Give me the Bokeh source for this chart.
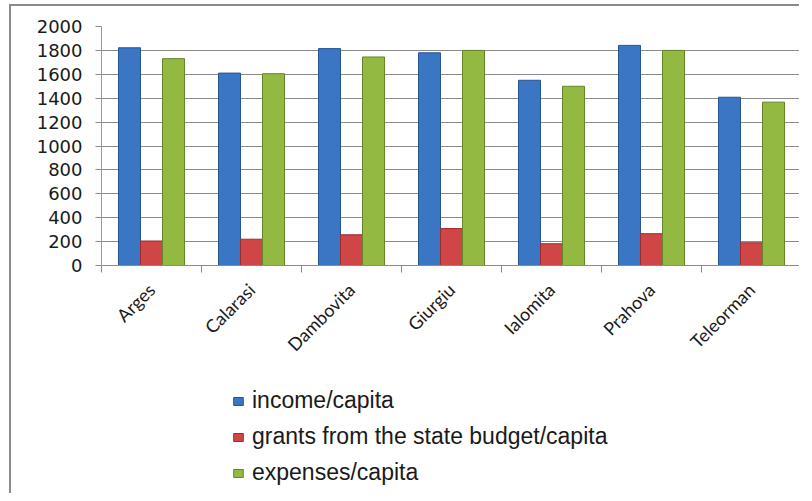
import numpy as np
from bokeh.plotting import figure
from bokeh.layouts import column
from bokeh.models import ColumnDataSource, FixedTicker, Legend, LegendItem, Range1d
from bokeh.transform import dodge
from bokeh.embed import file_html
from bokeh.resources import INLINE

counties = ["Arges", "Calarasi", "Dambovita", "Giurgiu", "Ialomita", "Prahova", "Teleorman"]
income = [1822, 1610, 1815, 1780, 1550, 1842, 1408]
grants = [205, 220, 257, 309, 182, 266, 190]
expenses = [1731, 1605, 1745, 1800, 1500, 1800, 1367]
series_names = ["income/capita", "grants from the state budget/capita", "expenses/capita"]
y_ticks = list(range(0, 2001, 200))

x_pos = np.arange(len(counties)) + 0.5
src = ColumnDataSource(dict(x=x_pos, income=income, grants=grants, expenses=expenses))

BORDER = "2px solid #8a8a8a"

p = figure(width=790, height=364, output_backend="svg", toolbar_location=None,
           x_range=Range1d(0, len(counties)), y_range=Range1d(0, 2000),
           min_border_left=90, min_border_right=0, min_border_top=20, min_border_bottom=105)
p.styles = {"border-top": BORDER, "border-left": BORDER}
p.outline_line_color = None
p.background_fill_color = "white"

colors = [("#3b76c4", "#27558f"), ("#d04545", "#9b2c2c"), ("#93b943", "#65852a")]
fields = ["income", "grants", "expenses"]
offsets = [-0.22, 0.0, 0.22]
for f, off, (fc, lc) in zip(fields, offsets, colors):
    p.vbar(x=dodge("x", off, range=p.x_range), top=f, width=0.22, bottom=0, source=src,
           fill_color=fc, line_color=lc, line_width=1)

# grid
p.xgrid.grid_line_color = None
p.ygrid.grid_line_color = "#8a8a8a"
p.ygrid.grid_line_width = 1
p.ygrid.ticker = FixedTicker(ticks=y_ticks)

# y axis
p.yaxis.ticker = FixedTicker(ticks=y_ticks)
p.yaxis.axis_line_color = "#9a9a9a"
p.yaxis.major_tick_line_color = "#8a8a8a"
p.yaxis.major_tick_out = 6
p.yaxis.major_tick_in = 0
p.yaxis.minor_tick_line_color = None
p.yaxis.major_label_text_font = "DejaVu Sans"
p.yaxis.major_label_text_font_size = "18px"
p.yaxis.major_label_text_color = "#1a1a1a"
p.yaxis.major_label_standoff = 13

# x axis: labels at centres, ticks at category boundaries
p.xaxis.ticker = FixedTicker(ticks=list(x_pos), minor_ticks=list(range(len(counties) + 1)))
p.xaxis.major_label_overrides = {float(x): c for x, c in zip(x_pos, counties)}
p.xaxis.major_tick_out = 0
p.xaxis.major_tick_in = 0
p.xaxis.minor_tick_out = 7
p.xaxis.minor_tick_in = 0
p.xaxis.minor_tick_line_color = "#8a8a8a"
p.xaxis.axis_line_color = "#8a8a8a"
p.xaxis.major_label_orientation = np.pi / 4
p.xaxis.major_label_text_font = "Lato"
p.xaxis.major_label_text_font_size = "18px"
p.xaxis.major_label_text_color = "#1a1a1a"
p.xaxis.major_label_standoff = 14

# legend panel (separate figure below the chart)
p2 = figure(width=790, height=125, output_backend="svg", toolbar_location=None,
            x_range=Range1d(0, 1), y_range=Range1d(0, 1),
            min_border_left=90, min_border_right=0, min_border_top=0, min_border_bottom=0)
p2.styles = {"border-left": BORDER}
p2.outline_line_color = None
p2.axis.visible = False
p2.grid.visible = False
# swatch renderers lie outside the visible range; only their legend glyphs show
swatch = ColumnDataSource(dict(x=[-5.0], top=[-5.0]))
legend_renderers = [p2.vbar(x="x", top="top", bottom=-6.0, width=0.1, source=swatch,
                            fill_color=fc, line_color=lc)
                    for fc, lc in colors]
legend = Legend(items=[LegendItem(label=n, renderers=[r]) for n, r in zip(series_names, legend_renderers)],
                location=(131, 7), orientation="vertical")
legend.glyph_width = 12
legend.glyph_height = 10
legend.label_height = 26
legend.spacing = 9
legend.padding = 0
legend.margin = 0
legend.label_standoff = 8
legend.border_line_color = None
legend.background_fill_alpha = 0
legend.label_text_font = "Liberation Sans"
legend.label_text_font_size = "23px"
legend.label_text_color = "#1a1a1a"
p2.add_layout(legend, "center")

layout = column(p, p2, spacing=0)
layout.styles = {"margin-left": "9px", "margin-top": "4px"}

open("out.html", "w").write(file_html(layout, INLINE))
